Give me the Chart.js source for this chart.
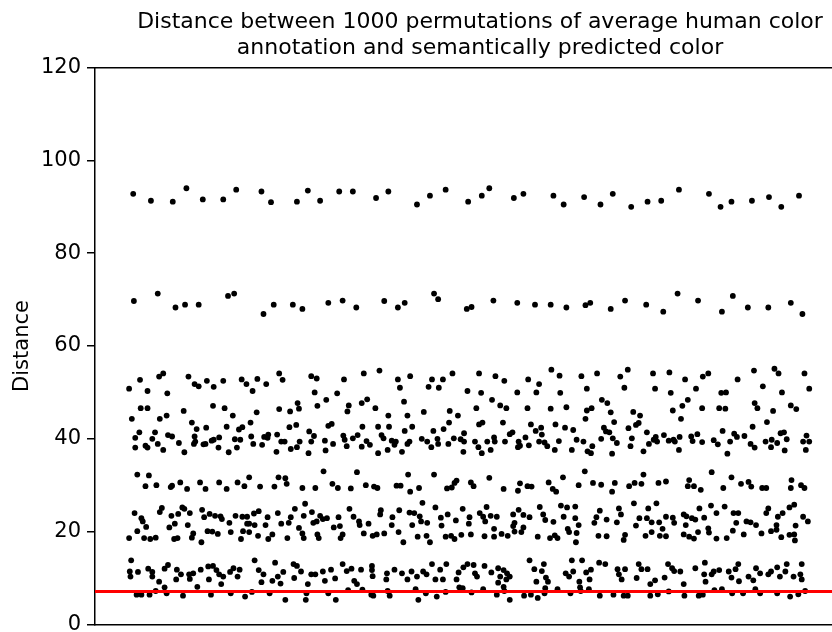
<!DOCTYPE html>
<html>
<head>
<meta charset="utf-8">
<title>Permutation distances</title>
<script src="https://cdn.jsdelivr.net/npm/chart.js@4.4.1/dist/chart.umd.min.js"></script>
<style>
  html, body { margin: 0; padding: 0; overflow: hidden; background: #fff; }
  canvas { display: block; }
</style>
</head>
<body>
<canvas id="chart" width="960" height="643"></canvas>
<script>
// Title lines
const titleLines = [
  'Distance between 1000 permutations of average human color',
  'annotation and semantically predicted color'
];
const yAxisLabel = 'Distance';

// Distance of the observed (non-permuted) prediction, drawn as the red reference line
const observedDistance = 7.1;

// Y axis range and tick spacing
const yRange = [0, 120];
const yStep = 20;

// Permutation index range shown on the x axis
const xRange = [-48, 1220];

// [permutation index, distance]
const permutationDistances = [
  // ~90-94
  [8,92.8],[34,91.3],[66,91.1],[86,94.0],[110,91.6],[140,91.6],[159,93.7],[196,93.3],[210,91.0],[248,91.1],
  [264,93.5],[282,91.3],[310,93.3],[330,93.3],[364,91.9],[382,93.3],[424,90.5],[443,92.4],[466,93.7],[499,91.1],
  [519,92.4],[530,94.0],[566,91.9],[580,92.8],[624,92.4],[639,90.5],[669,92.1],[693,90.5],[711,92.8],[738,90.0],
  [762,91.1],[782,91.3],[808,93.7],[852,92.8],[869,90.0],[885,91.1],[915,91.3],[940,92.1],[958,90.0],[984,92.4],
  // ~67-71
  [9,69.7],[44,71.3],[70,68.3],[84,68.9],[104,68.9],[147,70.8],[156,71.3],[199,66.9],[214,68.9],[242,68.9],
  [256,68.0],[294,69.3],[315,69.8],[335,68.3],[376,69.7],[396,68.3],[406,69.3],[449,71.3],[455,70.1],[497,68.0],
  [504,68.4],[536,69.8],[571,69.3],[597,68.9],[620,68.9],[643,68.3],[671,68.8],[678,69.3],[708,68.0],[729,69.8],
  [760,68.9],[785,67.4],[806,71.3],[836,69.8],[871,67.4],[887,70.8],[909,68.3],[939,68.3],[972,69.3],[989,66.9],
  // ~50-55
  [2,50.8],[18,52.7],[29,50.3],[46,53.4],[52,54.1],[58,49.8],[89,53.4],[98,51.8],[104,51.3],[116,52.5],
  [126,51.2],[140,52.5],[167,52.8],[174,51.8],[183,50.3],[190,52.9],[203,51.8],[222,54.1],[227,52.7],[269,53.5],
  [277,53.0],[274,50.0],[307,49.8],[317,52.8],
  [346,54.1],[369,54.7],[396,52.8],[414,53.5],[399,51.0],[446,52.8],[441,51.2],[456,51.0],[462,52.8],[476,54.1],
  [498,50.3],[515,54.1],[518,49.9],[539,53.5],[552,52.5],[571,50.0],[587,52.8],[599,50.0],[603,51.8],[621,54.9],
  [633,53.6],[634,49.9],[665,53.5],[673,50.8],
  [688,54.1],[722,53.4],[733,54.9],[728,51.0],[770,54.1],[773,50.8],[794,54.3],[796,49.9],[817,52.8],[833,50.8],
  [843,53.4],[851,54.1],[870,49.9],[877,50.0],[894,52.8],[918,54.7],[931,51.3],[948,55.1],[954,54.1],[959,50.0],
  [992,54.1],[999,50.8],
  // ~43-48
  [19,46.6],[29,46.6],[6,44.3],[47,44.3],[57,45.0],[82,46.0],[125,47.1],[142,46.6],[154,45.0],[189,45.7],
  [222,46.4],[238,45.9],[249,47.7],[251,46.5],[278,47.1],[291,48.4],[324,47.2],[322,45.9],
  [343,47.7],[351,48.5],[363,46.6],[405,48.0],[382,45.0],[410,45.0],[434,45.8],[472,46.0],[484,45.0],[511,46.6],
  [534,48.4],[546,47.2],[555,46.6],[586,46.6],[620,46.5],[643,46.8],[673,46.1],[671,44.3],
  [695,48.4],[703,47.7],[680,46.6],[708,45.7],[741,45.8],[751,45.0],[713,43.6],[749,43.4],[745,43.0],[799,46.1],
  [813,47.1],[821,48.4],[811,44.3],[842,46.6],[867,46.6],[876,46.5],[919,47.7],[923,46.6],[946,46.0],[972,47.2],
  [980,46.4],[937,43.6],
  // ~36-43
  [94,43.5],[101,42.1],[115,42.4],[145,42.6],[163,42.0],[168,42.5],[180,43.5],[237,42.5],[247,43.0],[266,41.6],
  [294,42.8],[299,43.2],[17,41.4],[40,41.4],[11,40.2],[36,40.0],[59,40.8],[65,40.5],[98,40.5],[99,39.4],
  [126,39.8],[134,40.3],[157,39.9],[165,39.8],[181,40.5],[200,40.4],[206,40.9],[219,40.9],[205,40.2],[225,39.4],
  [230,39.4],[252,39.4],[269,39.4],[273,40.6],[289,39.6],[316,40.7],[318,39.8],[11,38.1],[26,38.5],[29,38.1],
  [44,38.9],[52,37.6],[75,39.1],[83,37.1],[97,38.9],[111,38.8],[114,38.9],[123,39.6],[133,38.1],[148,37.1],
  [160,38.1],[184,38.9],[197,38.7],[218,37.2],[239,37.8],[248,38.2],[265,36.9],[290,37.5],[301,38.9],[321,38.4],
  [330,40.1],
  [344,42.6],[337,40.8],[343,38.3],[350,39.5],[355,38.7],[367,42.6],[372,40.8],[375,40.1],[383,42.6],[387,39.6],
  [393,39.4],[391,38.7],[406,41.7],[417,42.6],[413,39.4],[410,38.9],[402,37.2],[381,37.6],[367,36.9],[431,40.0],
  [439,39.4],[445,38.2],[448,41.7],[454,40.0],[455,38.9],[463,42.1],[471,43.5],[470,38.9],[478,40.1],[488,39.9],
  [493,41.2],[493,39.4],[492,37.2],[509,39.4],[514,38.2],[515,43.1],[520,43.5],[519,36.9],[527,39.4],[532,37.6],
  [538,39.4],[537,40.3],[550,43.5],[553,39.4],[560,41.0],[564,41.4],[572,38.2],[573,39.4],[575,38.5],[583,40.3],
  [588,38.6],[591,43.1],[598,41.7],[603,39.4],[606,42.4],[607,40.9],[615,38.4],[611,39.2],[627,43.1],[626,37.6],
  [632,39.5],[641,42.4],[651,37.6],[653,41.9],[658,39.8],[668,39.4],[674,37.3],
  [698,42.4],[701,41.6],[706,41.4],[694,40.0],[681,38.4],[679,36.9],[710,36.8],[717,39.1],[711,40.1],[734,42.3],
  [739,40.1],[737,38.4],[756,37.3],[761,41.4],[764,38.9],[771,39.8],[776,39.4],[774,40.4],[786,40.8],[793,39.6],
  [800,39.8],[809,40.4],[808,37.6],[802,39.4],[826,40.5],[835,41.0],[828,39.5],[842,39.3],[859,39.7],[865,38.8],
  [872,41.7],[883,39.4],[879,36.8],[889,41.1],[893,40.4],[904,40.6],[916,42.6],[913,38.9],[919,38.1],[935,39.4],
  [943,38.2],[944,39.8],[957,41.2],[962,41.4],[966,39.9],[963,37.5],[952,39.1],[990,39.4],[999,39.4],[995,40.7],
  [994,37.6],
  // ~28-33
  [14,32.3],[31,32.1],[26,29.8],[42,30.0],[63,29.6],[65,29.9],[77,30.6],[87,29.2],[106,30.6],[114,29.2],
  [134,30.6],[145,29.2],[161,30.6],[171,29.8],[178,31.7],[194,29.7],[215,29.7],[221,31.7],[231,31.5],[233,30.3],
  [256,29.4],[275,29.4],[287,33.0],[300,30.3],[308,29.4],[327,29.3],
  [336,32.8],[349,30.0],[361,29.7],[366,29.4],[394,29.9],[400,29.9],[411,32.3],[414,28.6],[427,29.4],[449,32.3],
  [468,29.3],[475,29.5],[479,30.5],[482,31.0],[503,30.6],[507,29.8],[530,31.6],[551,29.2],[572,28.8],[575,30.4],
  [586,29.8],[592,29.7],[617,30.6],[623,29.2],[628,28.6],[638,31.7],[661,30.0],
  [670,33.0],[682,30.5],[694,30.1],[714,30.5],[710,28.6],[735,29.8],[743,30.5],[753,30.3],[756,32.3],[778,30.5],
  [789,30.8],[823,31.1],[821,29.8],[830,29.8],[840,29.0],[856,32.8],[873,29.4],[885,31.7],[899,30.3],[910,30.7],
  [914,29.7],[930,29.4],[936,29.4],[973,31.1],[972,29.4],[987,30.0],[992,29.4],
  // ~17-26
  [10,24.0],[20,22.9],[22,22.2],[47,24.2],[50,25.1],[64,23.4],[74,23.8],[80,25.2],[83,24.9],[91,24.0],
  [109,24.7],[112,23.1],[120,23.8],[128,23.4],[136,23.3],[138,22.7],[149,21.9],[158,23.4],[168,23.2],[175,23.2],
  [178,21.7],[185,23.9],[192,24.4],[205,23.1],[220,24.0],[239,23.1],[236,21.9],[245,24.9],[260,26.0],[258,23.4],
  [270,24.2],[272,21.9],[277,22.2],[282,23.4],[286,22.7],[292,22.9],[309,23.1],[325,24.9],[331,23.2],
  [14,20.1],[27,21.0],[61,20.9],[69,21.7],[88,21.4],[117,20.1],[124,20.0],[132,19.5],[151,19.9],[169,20.1],
  [175,21.7],[178,19.9],[186,21.4],[202,21.4],[212,19.4],[225,21.7],[251,20.8],[256,19.6],[278,19.4],[302,20.9],
  [311,21.2],[315,19.4],
  [2,18.6],[24,18.6],[33,18.4],[41,18.7],[68,18.4],[73,18.6],[94,18.7],[96,19.6],[108,17.7],[166,18.4],
  [191,19.1],[206,18.4],[234,18.6],[258,18.6],[280,18.6],[312,18.6],
  [339,22.2],[340,21.4],[353,21.7],[371,24.6],[370,23.7],[387,21.4],[388,23.1],[398,24.6],[413,24.1],[420,24.0],
  [428,23.3],[432,26.2],[430,22.2],[439,21.9],[417,21.4],[451,25.2],[459,23.0],[460,21.3],[469,23.7],[481,22.4],
  [491,24.9],[501,23.1],[500,21.7],[516,24.0],[521,23.2],[526,25.3],[532,23.4],[524,22.2],[541,23.2],[537,20.6],
  [565,23.7],[573,24.7],[580,23.6],[589,23.1],[567,21.9],[565,21.2],[580,20.9],[604,25.3],[609,23.7],[612,22.5],
  [624,22.1],[635,25.6],[644,25.2],[656,25.4],[639,23.2],[656,22.9],[661,21.4],[645,20.6],
  [346,19.6],[359,19.1],[365,19.4],[376,19.6],[397,19.9],[404,17.7],[425,18.9],[438,19.1],[443,17.7],[466,18.9],
  [474,19.1],[479,18.4],[489,19.3],[503,19.4],[523,19.0],[537,18.9],[548,19.5],[557,19.1],[567,20.0],[577,19.9],
  [601,18.9],[619,18.6],[626,19.2],[630,18.6],[647,19.9],[658,19.7],[657,17.7],
  [692,24.5],[687,23.1],[684,21.9],[702,22.6],[720,25.0],[723,23.7],[717,22.0],[742,26.1],[750,22.9],[763,25.0],
  [761,22.9],[775,26.1],[768,22.0],[779,22.0],[789,23.2],[799,23.0],[801,21.9],[745,21.3],[784,20.6],[815,23.7],
  [819,23.3],[827,22.9],[832,22.6],[818,21.4],[838,25.0],[845,23.0],[855,25.6],[863,24.0],[875,25.4],[888,24.0],
  [895,24.0],[892,21.9],[907,22.2],[913,22.0],[921,21.4],[939,25.0],[936,24.0],[953,23.2],[960,24.0],[951,21.4],
  [970,25.2],[977,25.8],[979,21.3],[990,23.2],[997,22.2],
  [690,19.1],[702,19.0],[729,19.3],[727,18.2],[759,19.1],[768,19.9],[780,19.1],[789,19.0],[815,19.4],[823,18.9],
  [830,18.5],[836,19.9],[851,20.7],[852,19.8],[863,18.5],[878,18.6],[887,20.2],[903,19.4],[929,19.6],[943,20.1],
  [951,20.4],[958,18.8],[970,19.3],[977,19.4],[978,18.1],
  // ~8-14
  [5,13.8],[3,11.4],[15,11.3],[4,10.3],[30,12.0],[36,11.3],[36,10.3],[46,9.2],[54,8.0],[59,12.8],
  [54,12.0],[72,11.8],[78,10.8],[71,9.7],[90,10.8],[96,11.0],[91,9.8],[107,11.8],[118,12.5],[119,9.7],
  [125,12.6],[130,11.7],[134,10.8],[140,10.3],[137,8.7],[150,11.3],[155,12.1],[164,11.8],[161,10.3],[102,8.1],
  [186,13.8],[192,11.7],[199,10.8],[196,9.1],[212,9.4],[216,13.3],[220,10.3],[228,11.3],[224,8.8],[243,13.0],
  [248,12.6],[244,10.0],[254,11.4],[264,8.7],[269,10.8],[275,10.8],[286,11.4],[289,9.4],[298,11.8],[304,9.9],
  [315,13.0],[321,11.5],[328,12.0],[332,9.4],[342,11.8],[336,8.7],[358,12.6],[358,11.7],[359,10.4],[380,11.0],
  [379,9.7],[391,11.8],[402,11.0],[410,9.7],[416,11.4],[424,10.3],[433,11.4],[438,10.8],[446,13.0],[451,9.7],
  [458,11.8],[467,13.0],[462,9.7],[485,11.2],[482,9.7],[492,12.3],[498,13.0],
  [507,12.8],[509,11.0],[512,10.3],[523,12.6],[533,11.2],[543,12.1],[546,10.3],[551,11.7],[543,9.0],[556,11.0],
  [560,10.3],[555,9.7],[551,8.1],[589,13.8],[596,11.9],[607,11.5],[610,13.0],[599,9.2],[613,10.1],[616,9.2],
  [642,11.0],[651,13.8],[653,11.4],[647,10.3],[666,13.8],[679,11.8],[672,11.2],[677,9.7],[662,9.2],[663,8.0],
  [691,13.3],[700,13.0],[718,11.9],[729,11.9],[720,10.8],[724,9.7],[749,13.0],[753,11.9],[762,11.9],[746,10.0],
  [766,8.7],[773,9.5],[787,10.1],[792,13.0],[798,12.1],[801,11.5],[810,11.4],[815,8.7],[832,12.1],[846,13.3],
  [859,11.4],[845,10.8],[856,10.8],[867,11.7],[847,9.2],[881,11.4],[885,10.1],[895,13.0],[891,11.9],[896,9.3],
  [910,10.3],[921,12.1],[927,11.0],[917,9.5],[939,10.8],[943,11.4],[952,12.3],[956,10.3],[966,13.0],[964,11.4],
  [976,10.3],[986,10.8],[988,13.0],[988,9.7],
  // ~5-8
  [13,6.4],[20,6.4],[32,6.4],[41,7.2],[57,6.7],[81,6.2],[122,6.4],[151,6.7],[172,6.0],[182,7.0],
  [208,6.7],[231,5.3],[262,6.7],[261,5.3],[294,6.7],[305,5.3],[323,7.4],[344,7.5],[357,6.4],[360,6.2],
  [381,7.2],[384,6.2],[422,7.6],[426,5.3],[437,6.7],[453,6.0],[466,7.0],[486,8.0],[491,7.8],
  [504,6.9],[521,7.6],[541,6.4],[552,7.2],[560,5.3],[581,6.2],[591,6.4],[601,5.7],[612,7.8],[611,6.7],
  [630,7.6],[649,6.7],[664,7.2],[676,7.6],[692,6.2],[712,6.4],[727,6.2],[733,6.2],[766,6.2],[777,6.5],
  [793,7.1],[816,6.2],[837,6.2],[843,6.4],[860,7.4],[871,7.6],[886,6.7],[902,6.7],[920,7.6],[927,6.7],
  [952,6.7],[971,6.0],[983,6.5],[993,7.2]
];

const FONT = "'DejaVu Sans', 'Liberation Sans', sans-serif";
Chart.defaults.font.family = FONT;
Chart.defaults.color = '#000';

const spine = { display: true, color: '#000', width: 1.5 };

new Chart(document.getElementById('chart'), {
  data: {
    datasets: [
      {
        type: 'line',
        label: 'observed',
        data: [{ x: xRange[0], y: observedDistance }, { x: xRange[1], y: observedDistance }],
        borderColor: '#ff0000',
        borderWidth: 3,
        pointRadius: 0,
        order: 0
      },
      {
        type: 'scatter',
        label: 'permutations',
        data: permutationDistances.map(([x, y]) => ({ x, y })),
        backgroundColor: '#000',
        borderWidth: 0,
        pointRadius: 2.9,
        pointHoverRadius: 2.9,
        order: 1
      }
    ]
  },
  options: {
    responsive: false,
    animation: false,
    events: [],
    layout: { autoPadding: false, padding: 0 },
    plugins: {
      legend: { display: false },
      tooltip: { enabled: false },
      title: {
        display: true,
        text: titleLines,
        color: '#000',
        font: { size: 22, weight: 'normal', lineHeight: 1.15 },
        padding: { top: 10, bottom: 7 }
      }
    },
    scales: {
      x: {
        type: 'linear',
        position: 'bottom',
        min: xRange[0],
        max: xRange[1],
        ticks: { display: false },
        grid: { display: false },
        border: spine,
        afterFit(scale) { scale.height = 7; }
      },
      xTop: {
        type: 'linear',
        position: 'top',
        min: xRange[0],
        max: xRange[1],
        ticks: { display: false },
        grid: { display: false },
        border: spine,
        afterFit(scale) { scale.height = 0; }
      },
      y: {
        type: 'linear',
        min: yRange[0],
        max: yRange[1],
        ticks: { stepSize: yStep, color: '#000', font: { size: 21 }, padding: 6 },
        grid: { drawOnChartArea: false, drawTicks: true, tickLength: 8, color: '#000', lineWidth: 1.5 },
        border: spine,
        title: {
          display: true,
          text: yAxisLabel,
          color: '#000',
          font: { size: 21 },
          padding: { top: 10, bottom: 0 }
        },
        afterFit(scale) { scale.width = 95; }
      }
    }
  }
});
</script>
</body>
</html>
